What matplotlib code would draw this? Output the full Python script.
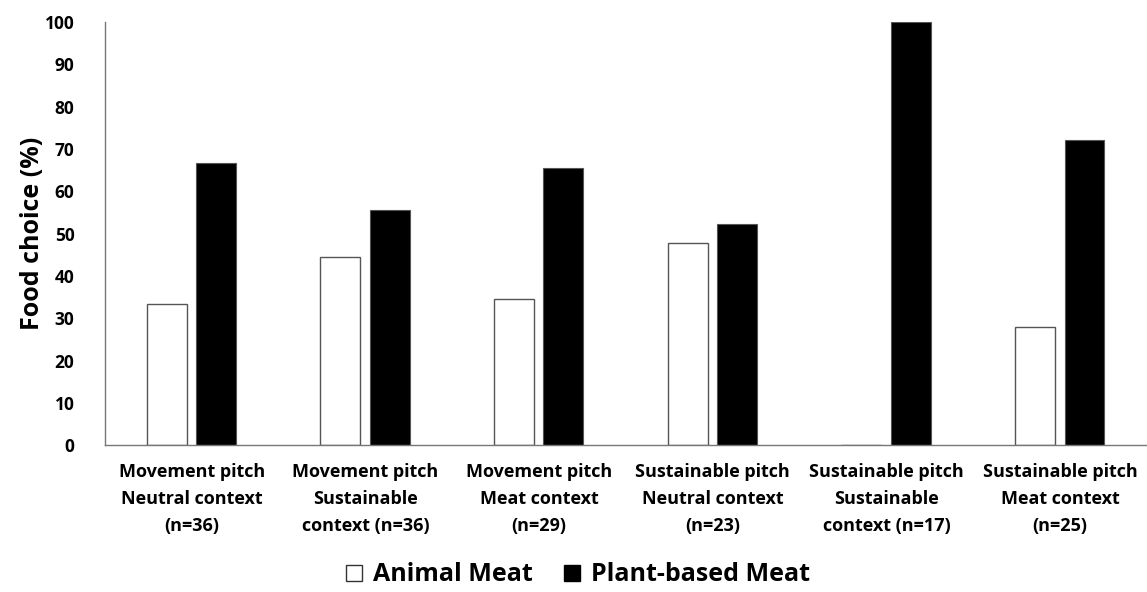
import matplotlib.pyplot as plt
import numpy as np
from matplotlib.lines import Line2D

plt.rcParams['font.family'] = ['Open Sans', 'DejaVu Sans']

groups = ["Movement pitch\nNeutral context\n(n=36)",
          "Movement pitch\nSustainable\ncontext (n=36)",
          "Movement pitch\nMeat context\n(n=29)",
          "Sustainable pitch\nNeutral context\n(n=23)",
          "Sustainable pitch\nSustainable\ncontext (n=17)",
          "Sustainable pitch\nMeat context\n(n=25)"]
animal_meat = [33.3, 44.4, 34.5, 47.8, 0.0, 28.0]
plant_meat = [66.7, 55.6, 65.5, 52.2, 100.0, 72.0]
yticks = [0, 10, 20, 30, 40, 50, 60, 70, 80, 90, 100]

fig = plt.figure(figsize=(11.47, 5.92), dpi=100)
ax = fig.add_axes([0.0915, 0.248, 0.9085, 0.715])

x = np.arange(len(groups))
w = 0.23
ax.bar(x - 0.145, animal_meat, w, color='white', edgecolor='#555555', linewidth=1.0)
ax.bar(x + 0.14, plant_meat, w, color='black', edgecolor='#555555', linewidth=0.8)

ax.set_xlim(-0.5, len(groups) - 0.5)
ax.set_ylim(0, 100)
ax.set_yticks(yticks)
ax.set_yticklabels([str(t) for t in yticks], fontsize=12.5, fontweight='bold')
ax.set_xticks(x)
ax.set_xticklabels(groups, fontsize=13, fontweight='bold', linespacing=1.65)
ax.tick_params(axis='both', length=0)
ax.tick_params(axis='y', pad=22)
ax.tick_params(axis='x', pad=13)
ax.set_ylabel('Food choice (%)', fontsize=18, fontweight='bold', labelpad=0)

for s in ['top', 'right']:
    ax.spines[s].set_visible(False)
for s in ['left', 'bottom']:
    ax.spines[s].set_color('#777777')
    ax.spines[s].set_linewidth(1.0)

handles = [Line2D([], [], marker='s', linestyle='none', markersize=11,
                  markerfacecolor='white', markeredgecolor='#333333', markeredgewidth=1.0),
           Line2D([], [], marker='s', linestyle='none', markersize=11,
                  markerfacecolor='black', markeredgecolor='black')]
fig.legend(handles, ['Animal Meat', 'Plant-based Meat'], loc='center',
           bbox_to_anchor=(0.503, 0.029), ncol=2, frameon=False,
           prop={'size': 18, 'weight': 'bold'}, handletextpad=0.35,
           columnspacing=1.2, handlelength=0.8)

fig.savefig('out.png', dpi=100)
